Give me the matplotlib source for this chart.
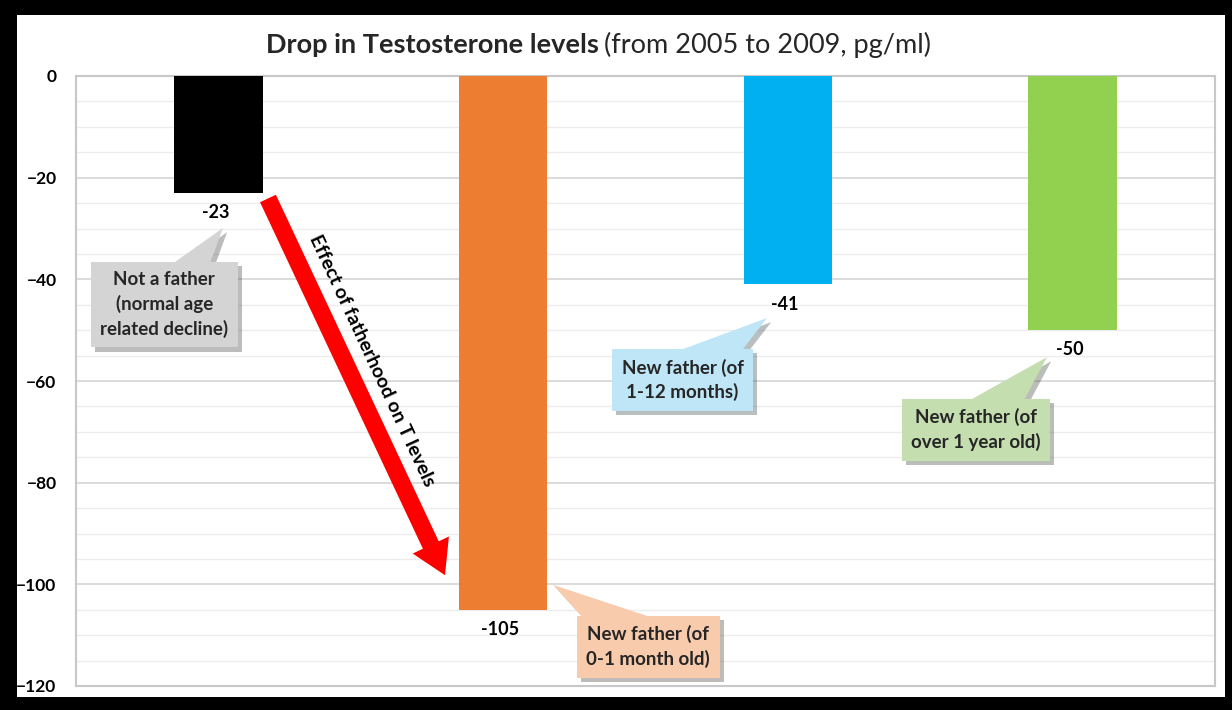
import matplotlib.pyplot as plt
import matplotlib.patheffects as pe
from matplotlib.patches import Rectangle, FancyArrowPatch

# data
groups = ['Not a father', 'New father 0-1 month', 'New father 1-12 months', 'New father over 1 year']
drops = [-23, -105, -41, -50]
bar_colors = ['#000000', '#ed7d31', '#00b0f0', '#92d050']
callout_texts = ['Not a father\n(normal age\nrelated decline)', 'New father (of\n0-1 month old)',
                 'New father (of\n1-12 months)', 'New father (of\nover 1 year old)']
callout_colors = ['#d4d4d4', '#f8cbad', '#bfe6f6', '#c5deb0']
y_ticks = [0, -20, -40, -60, -80, -100, -120]

plt.rcParams['font.family'] = ['Lato', 'DejaVu Sans']

fig = plt.figure(figsize=(12.32, 7.10), dpi=100)
fig.patch.set_facecolor('black')
fig.patches.append(Rectangle((17 / 1232, 13 / 710), 1208 / 1232, 682 / 710,
                             transform=fig.transFigure, facecolor='white', edgecolor='none', zorder=-5))

ax = fig.add_axes([76 / 1232, 24 / 710, 1139 / 1232, 610 / 710])
ax.set_zorder(1)
x = list(range(len(drops)))
ax.bar(x, drops, width=0.31, color=bar_colors, zorder=3)
ax.set_xlim(-0.5, 3.5)
ax.set_ylim(-120, 0)
ax.set_yticks(y_ticks)
ax.set_yticks(range(-120, 1, 5), minor=True)
ax.set_xticks([])
ax.tick_params(axis='y', which='both', length=0, pad=14, labelsize=12.5)
for lab in ax.get_yticklabels():
    lab.set_fontweight('bold')
ax.grid(axis='y', which='major', color='#d9d9d9', lw=1.3, zorder=0)
ax.grid(axis='y', which='minor', color='#ececec', lw=1.0, zorder=0)
for s in ax.spines.values():
    s.set_color('#c8c8c8')
    s.set_linewidth(1.5)

# value labels
for i, v in enumerate(drops):
    ax.text(i - 0.01, v - 2.2, str(v), ha='center', va='top', fontsize=13, fontweight='bold')

# callouts (offsets relative to each bar's value)
tip_off = [(0.016, -6.9), (0.175, 4.9), (-0.073, -6.6), (-0.09, -5.3)]
box_off = [(-0.19, -22), (0.51, -7.3), (-0.37, -18.8), (-0.34, -19.6)]
shadow = [pe.SimplePatchShadow(offset=(3, -3), alpha=0.35), pe.Normal()]
for i, v in enumerate(drops):
    ann = ax.annotate(callout_texts[i], xy=(i + tip_off[i][0], v + tip_off[i][1]),
                      xytext=(i + box_off[i][0], v + box_off[i][1]),
                      ha='center', va='center', fontsize=13.5, fontweight='bold', color='#262626',
                      linespacing=1.45, zorder=5,
                      bbox=dict(boxstyle='square,pad=0.5', fc=callout_colors[i], ec='none'),
                      arrowprops=dict(arrowstyle='wedge,tail_width=3.2,shrink_factor=0.5',
                                      fc=callout_colors[i], ec='none',
                                      patchA=None, shrinkA=0, shrinkB=0))
    ann.get_bbox_patch().set_path_effects(shadow)
    ann.arrow_patch.set_path_effects(shadow)

# red arrow from not-a-father bar to 0-1 month bar
arrow = FancyArrowPatch((0.17, drops[0] - 0.6), (0.8, drops[1] + 6.3),
                        arrowstyle='simple,head_width=2.4,head_length=2.0,tail_width=1.05',
                        mutation_scale=12, fc='#ff0000', ec='none', zorder=4)
ax.add_patch(arrow)
ax.text(0.54, -56, 'Effect of fatherhood on T levels', rotation=-65.1, rotation_mode='anchor',
        ha='center', va='center', fontsize=14, fontweight='bold', zorder=5)

# title
fig.text(0.486, 0.937, 'Drop in Testosterone levels', ha='right', va='center',
         fontsize=19.5, fontweight='bold', color='#262626')
fig.text(0.490, 0.937, '(from 2005 to 2009, pg/ml)', ha='left', va='center',
         fontsize=19.5, color='#262626')

fig.savefig('out.png', dpi=100, facecolor=fig.get_facecolor())
